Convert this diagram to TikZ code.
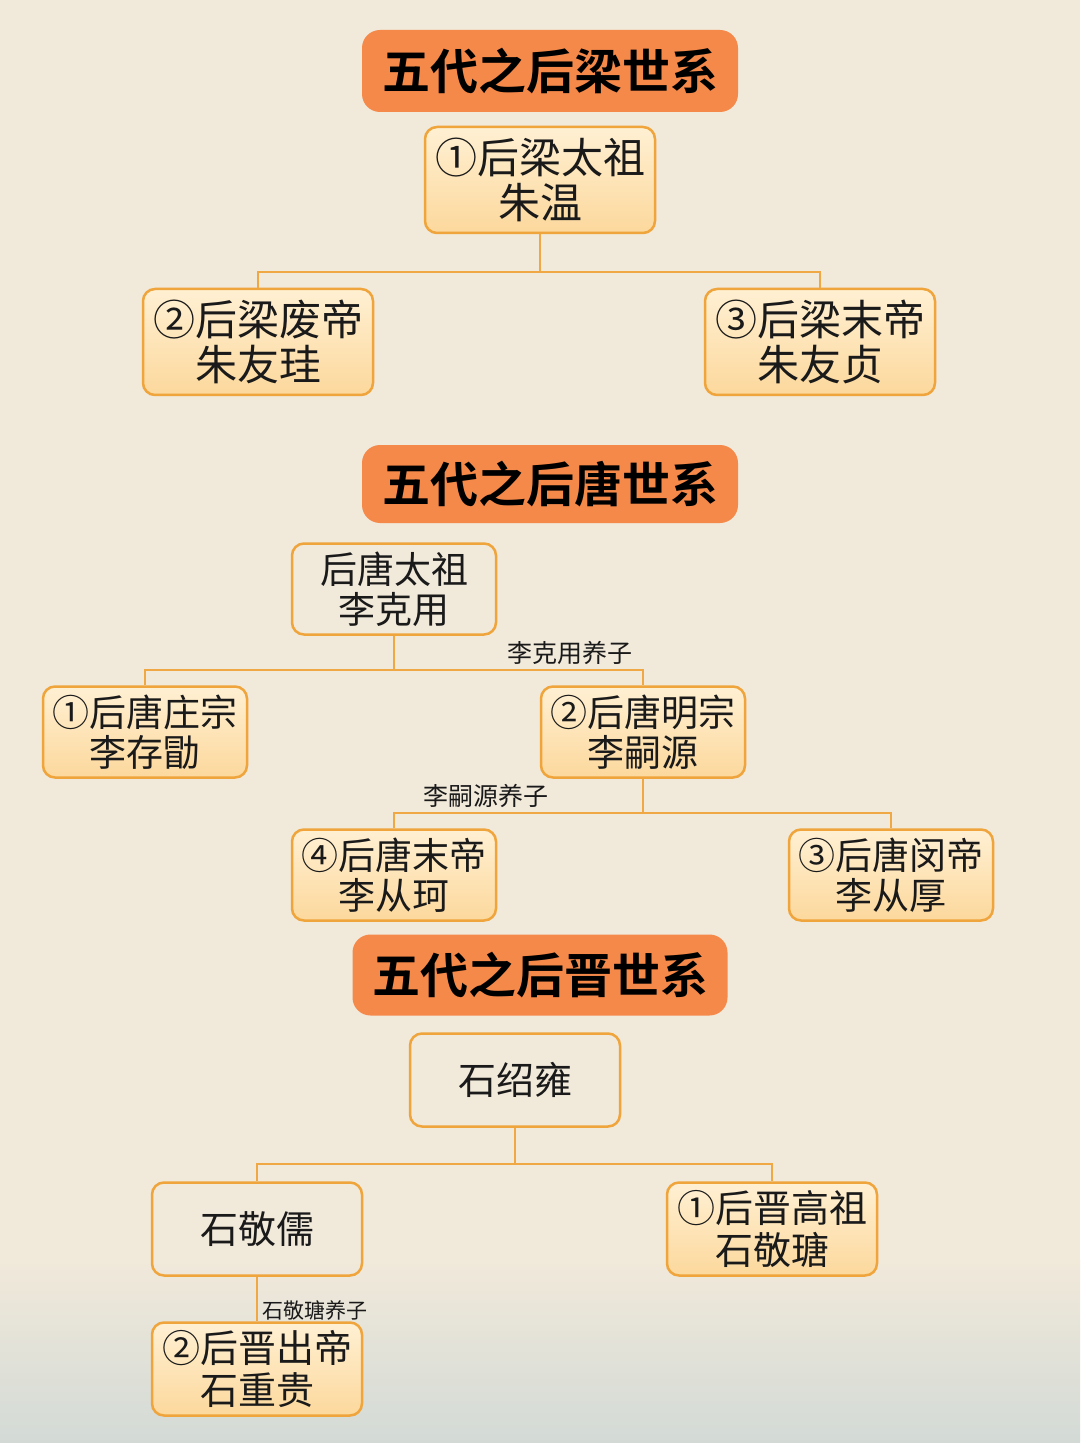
\documentclass[tikz,border=0pt]{standalone}
\usepackage{fontspec}
\newfontfamily\cjk{Noto Sans CJK SC}[BoldFont={Noto Sans CJK SC Bold}]
\definecolor{bgc}{HTML}{F1E9DA}
\definecolor{mist}{HTML}{D3DAD6}
\definecolor{boxline}{HTML}{EFA43C}
\definecolor{lineC}{HTML}{EFA843}
\definecolor{fillTop}{HTML}{FFF0D3}
\definecolor{fillBot}{HTML}{FCD89C}
\definecolor{ttlfill}{HTML}{F5894A}
\definecolor{txt}{HTML}{1A1A1A}
\tikzset{
  emp/.style={draw=boxline, line width=1.25pt, rounded corners=6pt, top color=fillTop, bottom color=fillBot, align=center, inner sep=0pt, text=txt},
  anc/.style={draw=boxline, line width=1.25pt, rounded corners=6pt, align=center, inner sep=0pt, text=txt},
  ttl/.style={fill=ttlfill, rounded corners=9pt, inner sep=0pt, text=black, font=\cjk\bfseries\fontsize{24}{26}\selectfont},
  conn/.style={draw=lineC, line width=1pt},
  lbl/.style={text=txt, inner sep=0pt},
  fsA/.style={font=\cjk\fontsize{21}{22.5}\selectfont},
  fsB/.style={font=\cjk\fontsize{18.5}{20}\selectfont},
  fsC/.style={font=\cjk\fontsize{19}{21}\selectfont},
  szA/.style={minimum width=115pt, minimum height=53pt},
  szB/.style={minimum width=102pt, minimum height=45.5pt},
  szC/.style={minimum width=105pt, minimum height=46.5pt}
}
\begin{document}
\begin{tikzpicture}[x=0.5pt,y=-0.5pt]
\useasboundingbox (0,0) rectangle (1080,1443);
\fill[bgc] (0,0) rectangle (1080,1443);
\shade[top color=bgc, bottom color=mist] (0,1260) rectangle (1080,1443);

% ---- Later Liang ----
\node[ttl, minimum width=188pt, minimum height=41pt] (t1) at (550,71) {五代之后梁世系};
\node[emp, szA, fsA] (l1) at (540,180) {①后梁太祖\\朱温};
\node[emp, szA, fsA] (l2) at (258,342) {②后梁废帝\\朱友珪};
\node[emp, szA, fsA] (l3) at (820,342) {③后梁末帝\\朱友贞};
\coordinate (j1) at (540,272);
\draw[conn] (l1.south) -- (j1);
\draw[conn] (l2.north) |- (j1) -| (l3.north);

% ---- Later Tang ----
\node[ttl, minimum width=188pt, minimum height=39pt] (t2) at (550,484) {五代之后唐世系};
\node[anc, szB, fsB] (k0) at (394,589) {后唐太祖\\李克用};
\node[emp, szB, fsB] (k1) at (145,732) {①后唐庄宗\\李存勖};
\node[emp, szB, fsB] (k2) at (643,732) {②后唐明宗\\李嗣源};
\node[emp, szB, fsB] (k4) at (394,875) {④后唐末帝\\李从珂};
\node[emp, szB, fsB] (k3) at (891,875) {③后唐闵帝\\李从厚};
\coordinate (j2) at (394,670);
\coordinate (j3) at (643,813);
\draw[conn] (k0.south) -- (j2);
\draw[conn] (k1.north) |- (j2) -| (k2.north);
\draw[conn] (k2.south) -- (j3);
\draw[conn] (k4.north) |- (j3) -| (k3.north);
\node[lbl, font=\cjk\fontsize{12.5}{14}\selectfont] (a1) at (570,653) {李克用养子};
\node[lbl, font=\cjk\fontsize{12.5}{14}\selectfont] (a2) at (486,796) {李嗣源养子};

% ---- Later Jin ----
\node[ttl, minimum width=187.5pt, minimum height=40.5pt] (t3) at (540,975) {五代之后晋世系};
\node[anc, szC, fsC] (s0) at (515,1080) {石绍雍};
\node[anc, szC, fsC] (s1) at (257,1229) {石敬儒};
\node[emp, szC, fsC] (s2) at (772,1229) {①后晋高祖\\石敬瑭};
\node[emp, szC, fsC] (s3) at (257,1369) {②后晋出帝\\石重贵};
\coordinate (j4) at (515,1164);
\draw[conn] (s0.south) -- (j4);
\draw[conn] (s1.north) |- (j4) -| (s2.north);
\draw[conn] (s1.south) -- (s3.north);
\node[lbl, font=\cjk\fontsize{10.5}{12}\selectfont] (a3) at (315,1310) {石敬瑭养子};
\end{tikzpicture}
\end{document}
